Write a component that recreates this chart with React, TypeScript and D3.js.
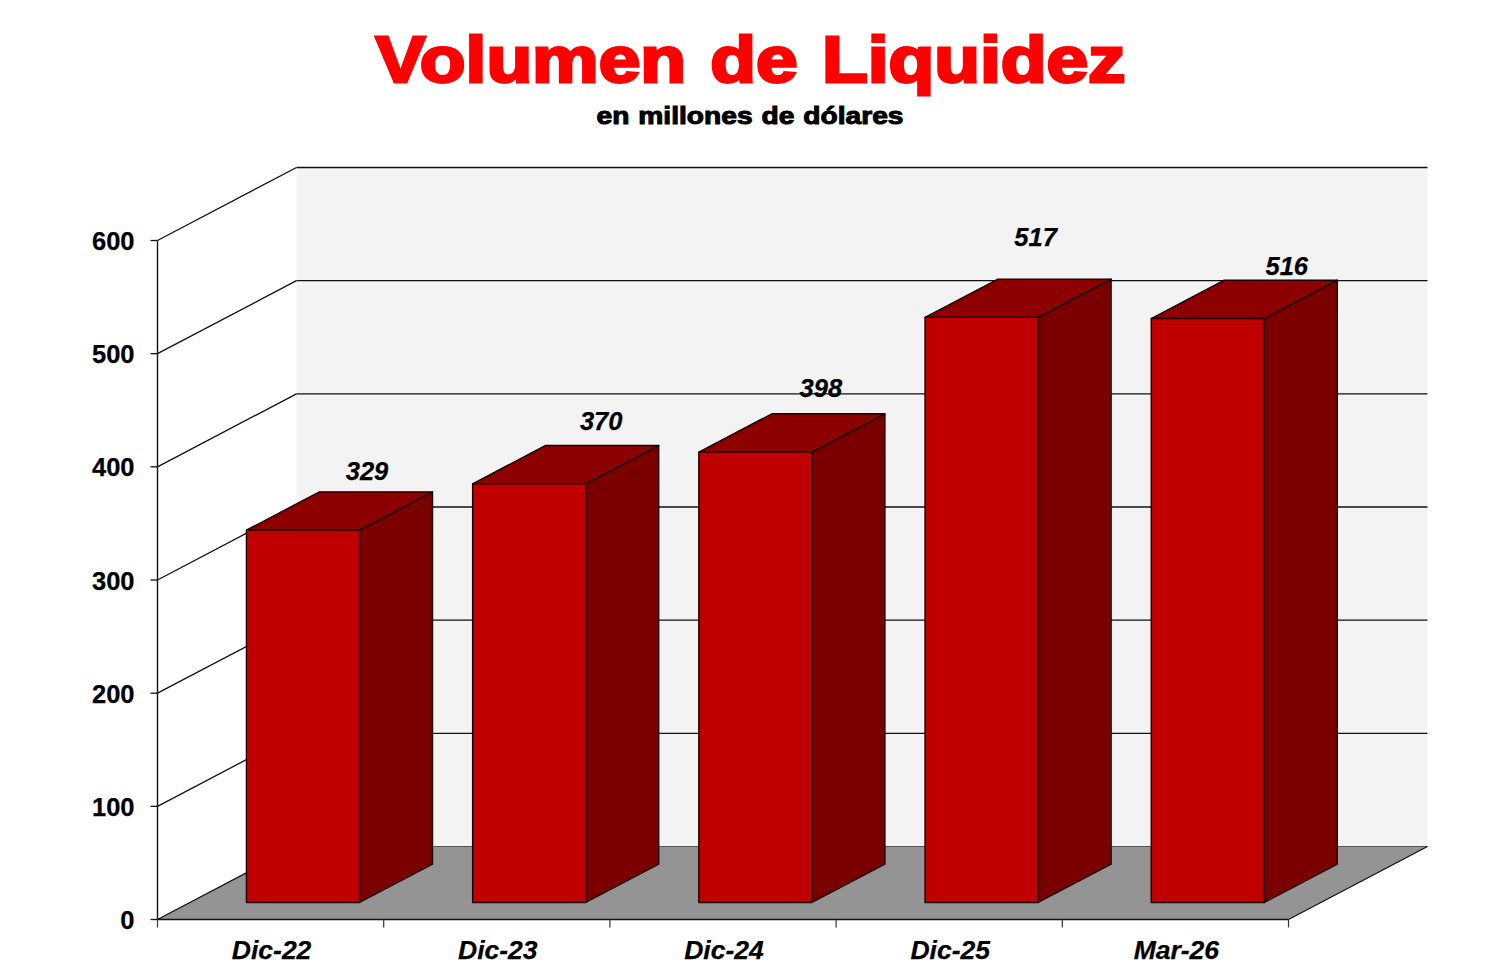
import React from "react";
import * as d3 from "d3";

const categories = ["Dic-22", "Dic-23", "Dic-24", "Dic-25", "Mar-26"];
const liquidity = [329, 370, 398, 517, 516];
const valueTicks = [0, 100, 200, 300, 400, 500, 600];
// hand-placed label nudges from the reference (relative to each bar centre / top)
const labelDx = [64, 72, 65.5, 54, 79];
const labelDy = [-50, -54, -55, -71, -44];

const W = 1500, H = 976;
const x0 = 157.5, x1 = 1288.5, yBase = 919.5, yTop = 240.5;
const depthX = 139, depthY = 73;
const barDepth = 0.525; // share of chart depth used by a bar
const barFront = 0.233; // share of depth in front of a bar

const FONT = "'Liberation Sans', Arial, sans-serif";
const stroke = "#111";

const pts = (p: [number, number][]) => p.map((d) => d.join(",")).join(" ");

export default function App() {
  const y = d3.scaleLinear().domain([0, 600]).range([yBase, yTop]);
  const x = d3.scaleBand<string>().domain(categories).range([x0, x1]).paddingInner(0.5).paddingOuter(0.25);
  const slot = d3.scaleBand<string>().domain(categories).range([x0, x1]);
  const backRight = x1 + depthX;
  const backY = (v: number) => y(v) - depthY;
  const fx = depthX * barFront, fy = depthY * barFront;
  const bx = depthX * barDepth, by = depthY * barDepth;

  return (
    <svg width={W} height={H} viewBox={`0 0 ${W} ${H}`} style={{ position: "absolute", left: 0, top: 0, display: "block" }} fontFamily={FONT}>
      <rect width={W} height={H} fill="#fff" />
      <text x={750.5} y={81.5} textAnchor="middle" fontSize={64} fontWeight={700} fill="#ff0000" stroke="#ff0000" strokeWidth={2.8} wordSpacing={3} textLength={750} lengthAdjust="spacingAndGlyphs">Volumen de Liquidez</text>
      <text x={750} y={123.5} textAnchor="middle" fontSize={24} fontWeight={700} fill="#000" stroke="#000" strokeWidth={1} wordSpacing={1} textLength={307} lengthAdjust="spacingAndGlyphs">en millones de dólares</text>

      {/* back wall */}
      <rect x={x0 + depthX} y={backY(600)} width={x1 - x0} height={y(0) - y(600)} fill="#f3f3f3" />
      {/* floor */}
      <polygon points={pts([[x0, yBase], [x0 + depthX, backY(0)], [backRight, backY(0)], [x1, yBase]])} fill="#949494" />
      <line x1={x0 + depthX} x2={backRight} y1={backY(0)} y2={backY(0)} stroke="#555" strokeWidth={1} />
      <line x1={x1} y1={yBase} x2={backRight} y2={backY(0)} stroke={stroke} strokeWidth={1.3} />

      {/* grid on back and side walls */}
      {valueTicks.map((v) => (
        <g key={v} fill="none" stroke={stroke} strokeWidth={1.3}>
          <line x1={x0} y1={y(v)} x2={x0 + depthX} y2={backY(v)} />
          {v > 0 && <line x1={x0 + depthX} y1={backY(v)} x2={backRight} y2={backY(v)} />}
          <line x1={x0 - 7} y1={y(v)} x2={x0} y2={y(v)} />
        </g>
      ))}
      <line x1={x0} y1={yTop} x2={x0} y2={yBase} stroke={stroke} strokeWidth={1.4} />
      <line x1={x0} y1={yBase} x2={x1} y2={yBase} stroke={stroke} strokeWidth={1.6} />
      {[...categories.map((c) => slot(c) as number), x1].map((t) => (
        <line key={t} x1={t} x2={t} y1={yBase} y2={yBase + 8} stroke="#333" strokeWidth={1.2} />
      ))}

      {/* bars */}
      {categories.map((c, i) => {
        const l = (x(c) as number) + fx;
        const r = l + x.bandwidth();
        const bottom = yBase - fy;
        const top = bottom - (y(0) - y(liquidity[i]));
        return (
          <g key={c} stroke="#1a0000" strokeWidth={1.4} strokeLinejoin="round">
            <polygon points={pts([[r, top], [r + bx, top - by], [r + bx, bottom - by], [r, bottom]])} fill="#7a0000" />
            <polygon points={pts([[l, top], [l + bx, top - by], [r + bx, top - by], [r, top]])} fill="#8c0000" />
            <rect x={l} y={top} width={r - l} height={bottom - top} fill="#c00000" />
          </g>
        );
      })}

      {/* value labels */}
      {categories.map((c, i) => {
        const l = (x(c) as number) + fx;
        const top = yBase - fy - (y(0) - y(liquidity[i]));
        return (
          <text key={c} x={l + x.bandwidth() / 2 + labelDx[i]} y={top + labelDy[i]} textAnchor="middle" fontSize={25.5} fontWeight={700} fontStyle="italic" fill="#000" stroke="#000" strokeWidth={0.25}>{liquidity[i]}</text>
        );
      })}

      {valueTicks.map((v) => (
        <text key={v} x={134.5} y={y(v) + 9.5} textAnchor="end" fontSize={25.5} fontWeight={700} fill="#000" stroke="#000" strokeWidth={0.25}>{v}</text>
      ))}
      {categories.map((c) => (
        <text key={c} x={(slot(c) as number) + slot.bandwidth() / 2 + 1} y={959} textAnchor="middle" fontSize={26.5} fontWeight={700} fontStyle="italic" fill="#000" stroke="#000" strokeWidth={0.25}>{c}</text>
      ))}
    </svg>
  );
}
